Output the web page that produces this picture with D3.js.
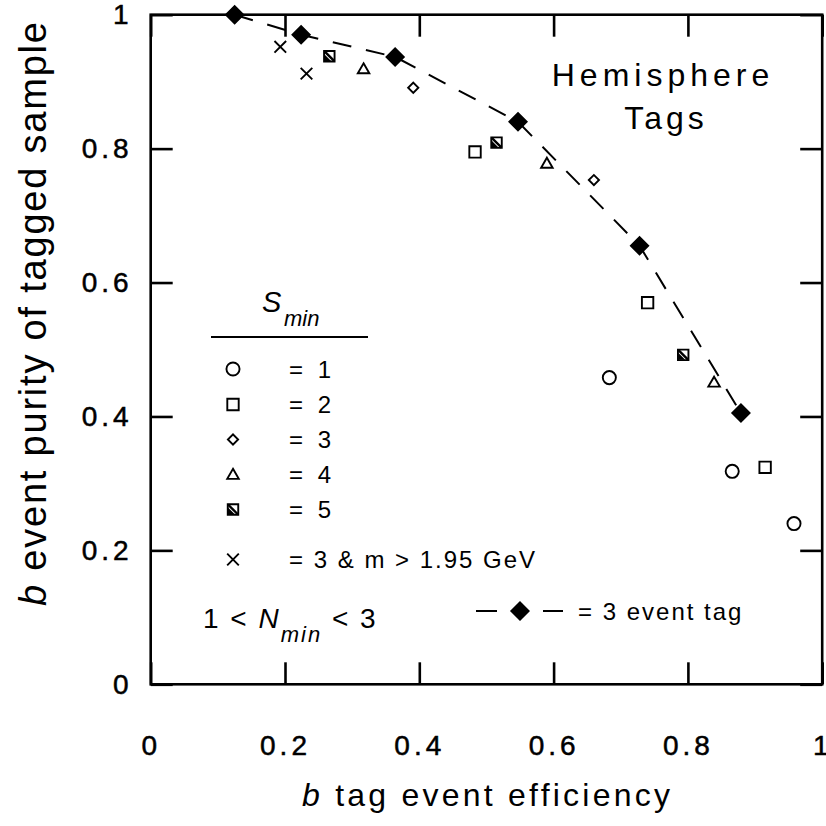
<!DOCTYPE html>
<html>
<head>
<meta charset="utf-8">
<script src="https://cdn.jsdelivr.net/npm/d3@7"></script>
<style>
body { margin: 0; background: #fff; }
text { font-family: "Liberation Sans", Arial, Helvetica, sans-serif; fill: #000; }
</style>
</head>
<body>
<div id="chart"></div>
<script>
// Values: [efficiency, purity]
var eventTag = [[0.125, 1.0], [0.224, 0.970], [0.364, 0.937], [0.547, 0.840], [0.728, 0.655], [0.879, 0.405]];
var smin1 = [[0.683, 0.458], [0.866, 0.318], [0.958, 0.240]];
var smin2 = [[0.483, 0.795], [0.740, 0.570], [0.915, 0.324]];
var smin3 = [[0.391, 0.891], [0.660, 0.753]];
var smin4 = [[0.317, 0.919], [0.590, 0.778], [0.839, 0.451]];
var smin5 = [[0.266, 0.938], [0.515, 0.809], [0.793, 0.492]];
var massCut = [[0.193, 0.952], [0.232, 0.912]];

var xTicks = [0, 0.2, 0.4, 0.6, 0.8, 1];
var yTicks = [0, 0.2, 0.4, 0.6, 0.8, 1];
var tickLabels = ["0", "0.2", "0.4", "0.6", "0.8", "1"];
var legendLabels = ["= 1", "= 2", "= 3", "= 4", "= 5", "= 3 & m > 1.95 GeV"];
var legendTypes = ["circle", "square", "diamond", "triangle", "slash", "times"];

var svgWidth = 826;
var svgHeight = 826;
var margin = { top: 14.7, right: 3.8, bottom: 141.7, left: 150.7 };
var chartWidth = svgWidth - margin.left - margin.right;
var chartHeight = svgHeight - margin.top - margin.bottom;

var svg = d3.select("#chart").append("svg")
    .attr("width", svgWidth)
    .attr("height", svgHeight);

var chartGroup = svg.append("g")
    .attr("transform", `translate(${margin.left}, ${margin.top})`);

var xScale = d3.scaleLinear().domain([0, 1]).range([0, chartWidth]);
var yScale = d3.scaleLinear().domain([0, 1]).range([chartHeight, 0]);

// frame
chartGroup.append("rect")
    .attr("width", chartWidth).attr("height", chartHeight)
    .attr("fill", "none").attr("stroke", "#000").attr("stroke-width", 2.6);

var fmt = d => tickLabels[xTicks.indexOf(d)];

var xAxis = chartGroup.append("g")
    .attr("transform", `translate(0, ${chartHeight})`)
    .call(d3.axisBottom(xScale).tickValues(xTicks).tickFormat(fmt).tickSizeInner(-22).tickSizeOuter(0).tickPadding(51));
var yAxis = chartGroup.append("g")
    .call(d3.axisLeft(yScale).tickValues(yTicks).tickFormat(fmt).tickSizeInner(-22).tickSizeOuter(0).tickPadding(18));
var topAxis = chartGroup.append("g")
    .call(d3.axisTop(xScale).tickValues(xTicks).tickFormat("").tickSizeInner(-22).tickSizeOuter(0));
var rightAxis = chartGroup.append("g")
    .attr("transform", `translate(${chartWidth}, 0)`)
    .call(d3.axisRight(yScale).tickValues(yTicks).tickFormat("").tickSizeInner(-22).tickSizeOuter(0));

chartGroup.selectAll(".domain").remove();
chartGroup.selectAll(".tick line").attr("stroke", "#000").attr("stroke-width", 2.6);
chartGroup.selectAll(".tick text")
    .attr("fill", "#000")
    .attr("stroke", "#000").attr("stroke-width", 0.5)
    .style("font-family", '"Liberation Sans", Arial, sans-serif')
    .style("font-size", "28px")
    .style("letter-spacing", "4px");

// axis titles
var xTitle = svg.append("text")
    .attr("x", 302).attr("y", 806)
    .attr("textLength", 368).attr("lengthAdjust", "spacing")
    .style("font-size", "32px");
xTitle.append("tspan").style("font-style", "italic").text("b");
xTitle.append("tspan").text("  tag  event  efficiency");

var yTitle = svg.append("text")
    .attr("transform", "translate(46, 606) rotate(-90)")
    .attr("textLength", 584).attr("lengthAdjust", "spacing")
    .style("font-size", "38px");
yTitle.append("tspan").style("font-style", "italic").text("b");
yTitle.append("tspan").text(" event purity of tagged sample");

// marker drawing
function marker(g, type, cx, cy) {
    var m = g.append("g").attr("transform", `translate(${cx}, ${cy})`)
        .attr("fill", "none").attr("stroke", "#000").attr("stroke-width", 1.9);
    if (type === "circle") {
        m.append("path").attr("d", d3.symbol(d3.symbolCircle, 135)());
    } else if (type === "square") {
        m.append("path").attr("d", d3.symbol(d3.symbolSquare, 130)());
    } else if (type === "diamond") {
        m.append("path").attr("d", d3.symbol(d3.symbolSquare, 52)()).attr("transform", "rotate(45)");
    } else if (type === "triangle") {
        m.append("path").attr("d", d3.symbol(d3.symbolTriangle2, 95)()).attr("transform", "translate(0,1)");
    } else if (type === "slash") {
        m.append("path").attr("d", d3.symbol(d3.symbolSquare, 110)());
        m.append("path").attr("d", "M-5,-5L5,5").attr("stroke-width", 2.4);
        m.append("path").attr("d", "M-5,-2L-5,5L2,5Z").attr("fill", "#000").attr("stroke", "none");
    } else if (type === "times") {
        m.append("path").attr("d", d3.symbol(d3.symbolTimes, 90)());
    } else if (type === "filled") {
        m.append("path").attr("d", d3.symbol(d3.symbolSquare, 150)()).attr("transform", "rotate(45)")
            .attr("fill", "#000");
    }
}

// dashed event-tag curve
var line = d3.line().x(d => xScale(d[0])).y(d => yScale(d[1]));
chartGroup.append("path")
    .datum(eventTag)
    .attr("d", line)
    .attr("fill", "none").attr("stroke", "#000").attr("stroke-width", 2)
    .attr("stroke-dasharray", "19,15");

var series = [[smin1, "circle"], [smin2, "square"], [smin3, "diamond"], [smin4, "triangle"], [smin5, "slash"], [massCut, "times"], [eventTag, "filled"]];
series.forEach(s => {
    s[0].forEach(d => marker(chartGroup, s[1], xScale(d[0]), yScale(d[1])));
});

// legend
var legend = svg.append("g");
legend.append("text").attr("x", 262).attr("y", 312).style("font-size", "29px").style("font-style", "italic").text("S");
legend.append("text").attr("x", 284).attr("y", 326).style("font-size", "22px").style("font-style", "italic").text("min");
legend.append("line").attr("x1", 211).attr("x2", 368).attr("y1", 337).attr("y2", 337)
    .attr("stroke", "#000").attr("stroke-width", 1.8);

var rowY = [369, 404.5, 439.5, 474.5, 509.5, 559.5];
legendLabels.forEach((lab, i) => {
    marker(legend, legendTypes[i], 233, rowY[i]);
    legend.append("text").attr("x", 289).attr("y", rowY[i] + 8.5)
        .style("font-size", "24px").style("letter-spacing", i < 5 ? "4px" : "2px")
        .text(lab);
});

var nText = legend.append("text").attr("x", 203).attr("y", 628).style("font-size", "28px").style("letter-spacing", "2px");
nText.append("tspan").text("1 < ");
nText.append("tspan").style("font-style", "italic").text("N");
nText.append("tspan").attr("dy", 14).style("font-size", "22px").style("font-style", "italic").text("min");
nText.append("tspan").attr("dy", -14).text(" < 3");

legend.append("line").attr("x1", 476).attr("x2", 497).attr("y1", 611).attr("y2", 611).attr("stroke", "#000").attr("stroke-width", 2);
legend.append("line").attr("x1", 543).attr("x2", 563).attr("y1", 611).attr("y2", 611).attr("stroke", "#000").attr("stroke-width", 2);
marker(legend, "filled", 520, 611);
legend.append("text").attr("x", 578).attr("y", 620).style("font-size", "24px").style("letter-spacing", "2px").text("= 3 event tag");

// annotation
svg.append("text").attr("x", 663).attr("y", 86).attr("text-anchor", "middle")
    .style("font-size", "32px").style("letter-spacing", "5px").text("Hemisphere");
svg.append("text").attr("x", 666).attr("y", 129).attr("text-anchor", "middle")
    .style("font-size", "32px").style("letter-spacing", "4px").text("Tags");
</script>
</body>
</html>
